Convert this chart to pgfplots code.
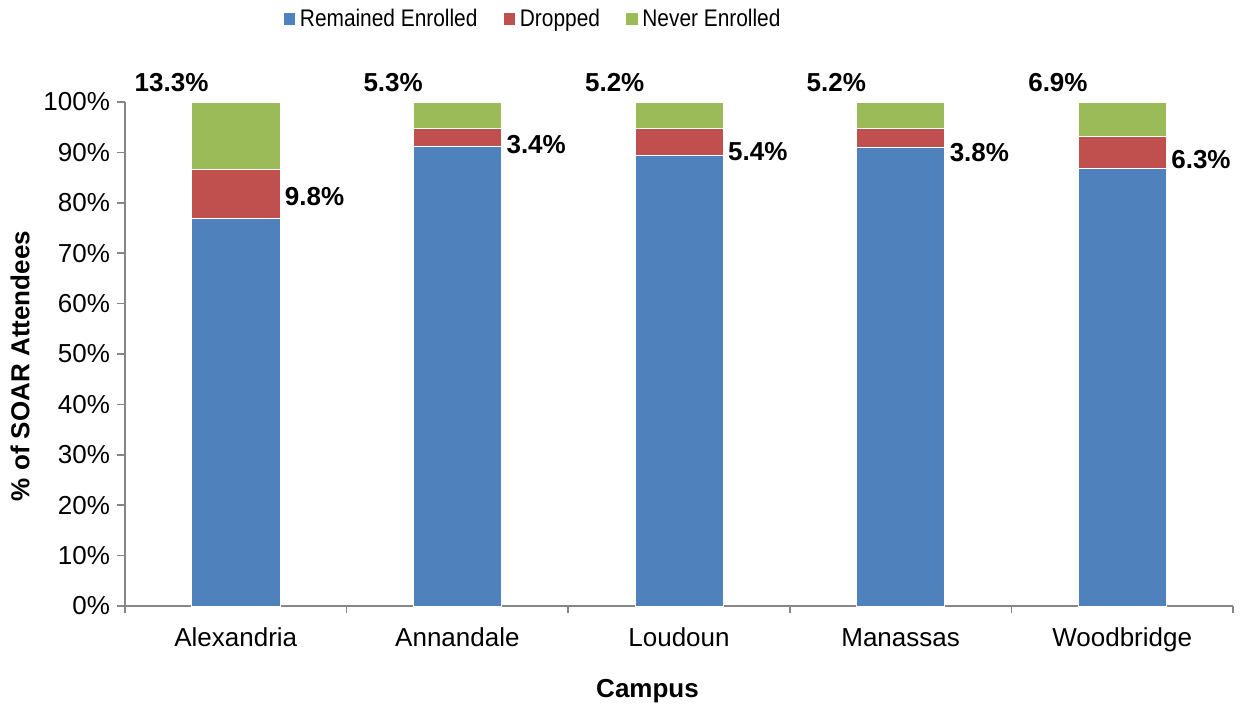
\documentclass[border=0pt]{standalone}
\usepackage{fontspec}
\setmainfont{Liberation Sans}
\usepackage{pgfplots}
\pgfplotsset{compat=1.18}
\definecolor{cblue}{HTML}{4F81BD}
\definecolor{cred}{HTML}{C0504D}
\definecolor{cgreen}{HTML}{9BBB59}
\definecolor{axisgray}{HTML}{868686}
\newcommand{\lf}{\fontsize{13}{15}\selectfont}
\begin{document}
\begin{tikzpicture}
\useasboundingbox (0,0) rectangle (625.5pt,351.5pt);
\begin{axis}[
  at={(62.5pt,48.5pt)}, anchor=south west,
  scale only axis, width=554pt, height=252pt,
  ybar stacked, bar width=44pt,
  xmin=-0.5, xmax=4.5, ymin=0, ymax=100,
  clip=false,
  xtick={0,1,2,3,4},
  xticklabels={Alexandria,Annandale,Loudoun,Manassas,Woodbridge},
  minor xtick={-0.5,0.5,1.5,2.5,3.5,4.5},
  ytick={0,10,...,100},
  yticklabel={\pgfmathprintnumber{\tick}\%},
  /pgf/number format/assume math mode=true,
  axis x line*=bottom, axis y line*=left,
  axis line style={draw=axisgray, line width=0.75pt},
  tick align=outside,
  major tick length=4pt, minor tick length=3.5pt,
  every tick/.style={axisgray, line width=0.75pt},
  every major x tick/.style={draw=none},
  ticklabel style={font=\lf, text=black},
  xticklabel style={anchor=base, yshift=-16pt},
  ylabel={\% of SOAR Attendees},
  ylabel style={font=\bfseries\lf, at={(axis description cs:-0.0948,0.476)}, anchor=center},
  xlabel={Campus},
  xlabel style={font=\bfseries\lf, at={(axis description cs:0.4716,-0.1806)}, anchor=base},
  legend style={at={(0.3687,1.1647)}, anchor=center, draw=none, legend columns=3,
    font=\fontsize{12}{14}\selectfont\addfontfeature{FakeStretch=0.87},
    /tikz/every even column/.append style={column sep=10.5pt}},
  legend image code/.code={\fill[#1] (0pt,-3.2pt) rectangle (6.4pt,3.2pt);},
  legend cell align=left,
]
\addplot[fill=cblue, draw=white, line width=0.3pt] coordinates {(0,76.9) (1,91.3) (2,89.4) (3,91.0) (4,86.8)};
\addplot[fill=cred, draw=white, line width=0.3pt] coordinates {(0,9.8) (1,3.4) (2,5.4) (3,3.8) (4,6.3)};
\addplot[fill=cgreen, draw=white, line width=0.3pt] coordinates {(0,13.3) (1,5.3) (2,5.2) (3,5.2) (4,6.9)};
\legend{Remained Enrolled, Dropped, Never Enrolled}
% Remained Enrolled labels
\node[font=\bfseries\lf, text=white] at (axis cs:0,38.45) {76.9\%};
\node[font=\bfseries\lf, text=white] at (axis cs:1,45.65) {91.3\%};
\node[font=\bfseries\lf, text=white] at (axis cs:2,44.7) {89.4\%};
\node[font=\bfseries\lf, text=white] at (axis cs:3,45.5) {91.0\%};
\node[font=\bfseries\lf, text=white] at (axis cs:4,43.4) {86.8\%};
% Dropped labels
\node[font=\bfseries\lf, anchor=west, inner sep=0pt] at (axis cs:0.22,81.3) {9.8\%};
\node[font=\bfseries\lf, anchor=west, inner sep=0pt] at (axis cs:1.22,91.6) {3.4\%};
\node[font=\bfseries\lf, anchor=west, inner sep=0pt] at (axis cs:2.22,90.2) {5.4\%};
\node[font=\bfseries\lf, anchor=west, inner sep=0pt] at (axis cs:3.22,90.0) {3.8\%};
\node[font=\bfseries\lf, anchor=west, inner sep=0pt] at (axis cs:4.22,88.5) {6.3\%};
% Never Enrolled labels
\node[font=\bfseries\lf] at (axis cs:-0.29,103.9) {13.3\%};
\node[font=\bfseries\lf] at (axis cs:0.71,103.9) {5.3\%};
\node[font=\bfseries\lf] at (axis cs:1.71,103.9) {5.2\%};
\node[font=\bfseries\lf] at (axis cs:2.71,103.9) {5.2\%};
\node[font=\bfseries\lf] at (axis cs:3.71,103.9) {6.9\%};
\end{axis}
\end{tikzpicture}
\end{document}
